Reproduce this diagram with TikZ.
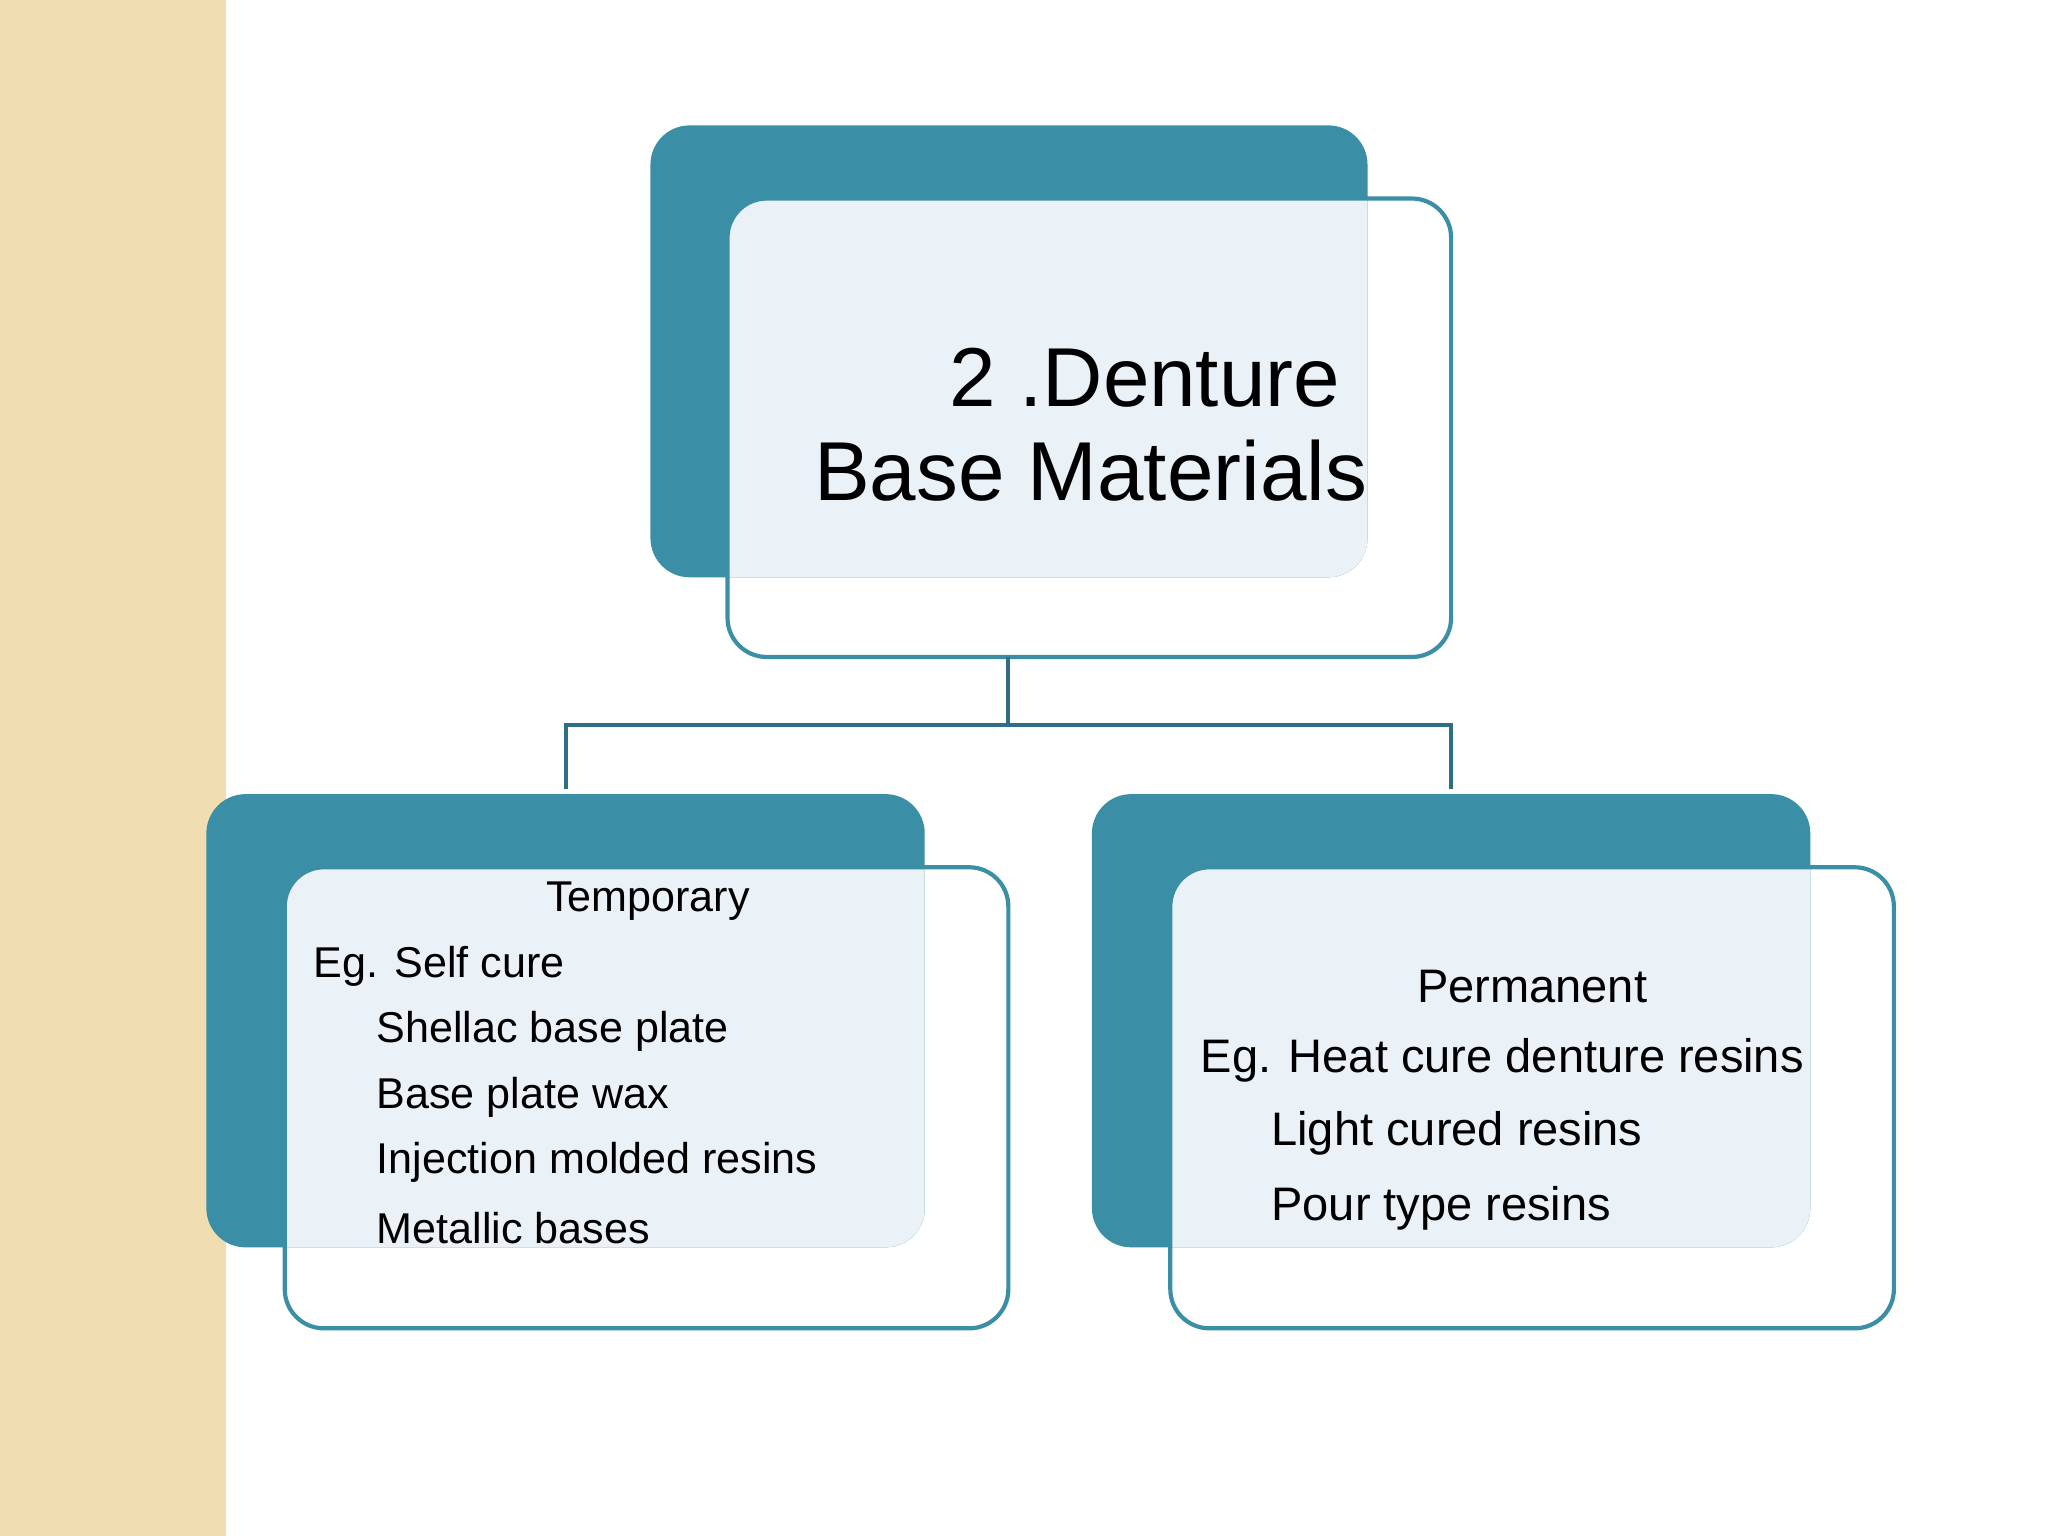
\documentclass[tikz,border=0pt]{standalone}
\usepackage{fontspec}
\setmainfont{Liberation Sans}
\begin{document}
\begin{tikzpicture}[x=0.5pt,y=-0.5pt,
  dark/.style={fill=teal0,rounded corners=15pt},
  outl/.style={draw=teal0,line width=1.6pt,rounded corners=15pt},
  conn/.style={draw=teal1,line width=1.5pt},
  txt/.style={font=\fontsize{16.5}{20}\selectfont,anchor=west,inner sep=0}]
\definecolor{teal0}{HTML}{3A8FA6}
\definecolor{teal1}{HTML}{2E6F85}
\definecolor{light0}{HTML}{EAF1F7}
\definecolor{beige}{HTML}{F1DDB2}
\useasboundingbox (0,0) rectangle (1568,1176);
\fill[white] (0,0) rectangle (1568,1176);
\fill[beige] (0,0) rectangle (173,1176);
% boxes
\foreach \nm/\ax/\ay/\bx/\by/\cx/\cy/\dx/\dy in {top/498/96/1047/442/557/152/1111/503, lft/158/608/708/955/218/664/772/1017, rgt/836/608/1386/955/896/664/1450/1017}{
  \fill[dark] (\ax,\ay) rectangle (\bx,\by);
  \begin{scope}
    \clip[rounded corners=15pt] (\ax,\ay) rectangle (\bx,\by);
    \fill[light0,rounded corners=15pt] (\cx,\cy) rectangle (\dx,\dy);
  \end{scope}
  \draw[outl] (\cx,\cy) rectangle (\dx,\dy);
  \coordinate (\nm) at ({(\cx+\dx)/2},\cy);
  \coordinate (\nm b) at ({(\cx+\dx)/2},\dy);
}
\coordinate (lt) at (433,604);
\coordinate (rt) at (1111,604);
\coordinate (j) at (772,555);
\draw[conn] (772,503) -- (j);
\draw[conn] (lt) |- (j) -| (rt);
\node[font=\fontsize{32}{36}\selectfont,align=center] (title) at (835,325) {\hspace*{1.3em}2 .Denture\\Base Materials};
% left text
\node[font=\fontsize{16.5}{20}\selectfont,inner sep=0] (tmp) at (496,690) {Temporary};
\node[txt] (l1) at (240,740) {Eg. Self cure};
\node[txt] (l2) at (288,790) {Shellac base plate};
\node[txt] (l3) at (288,840) {Base plate wax};
\node[txt] (l4) at (288,890) {Injection molded resins};
\node[txt] (l5) at (288,940) {Metallic bases};
% right text
\node[font=\fontsize{18}{22}\selectfont,inner sep=0] (perm) at (1173,755) {Permanent};
\node[txt,font=\fontsize{18}{22}\selectfont] (r1) at (919,812) {Eg. Heat cure denture resins};
\node[txt,font=\fontsize{18}{22}\selectfont] (r2) at (973,868) {Light cured resins};
\node[txt,font=\fontsize{18}{22}\selectfont] (r3) at (973,925) {Pour type resins};
\end{tikzpicture}
\end{document}
